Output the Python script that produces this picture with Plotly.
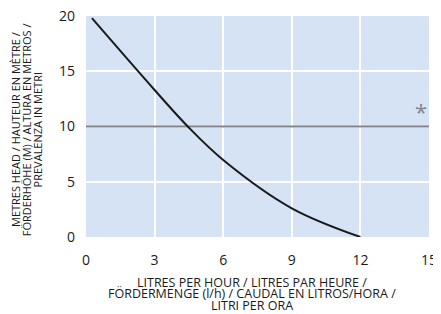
import plotly.graph_objects as go

flow = [0.26, 3.0, 4.45, 6.0, 9.0, 12.0]
head = [19.8, 13.3, 10.0, 6.97, 2.6, 0.0]
ref_level = [10, 10]
ref_x = [0, 15]
x_ticks = [0, 3, 6, 9, 12, 15]
y_ticks = [0, 5, 10, 15, 20]
x_title = ["LITRES PER HOUR / LITRES PAR HEURE /",
           "FÖRDERMENGE (l/h) / CAUDAL EN LITROS/HORA /",
           "LITRI PER ORA"]
y_title = ["METRES HEAD / HAUTEUR EN MÈTRE /",
           "FÖRDERHÖHE (M) / ALTURA EN METROS /",
           "PREVALENZA IN METRI"]

# page has an 8px body margin; figure drawn from (8, 8)
OFF = 8
W, H = 441 - OFF, 314 - OFF
L, R, T, B = 86 - OFF, 12, 16 - OFF, 77
pw, ph = W - L - R, H - T - B

def px_x(page_x):
    return (page_x - OFF - L) / pw

def px_y(page_y):
    return (H - B - (page_y - OFF)) / ph

fig = go.Figure()
fig.add_trace(go.Scatter(x=ref_x, y=ref_level, mode="lines",
                         line=dict(color="#858585", width=2), hoverinfo="skip"))
fig.add_trace(go.Scatter(x=flow, y=head, mode="lines",
                         line=dict(color="#1a1a1a", width=2, shape="spline", smoothing=1.0),
                         hoverinfo="skip"))
fig.add_annotation(x=14.65, y=11.4, text="*", showarrow=False,
                   font=dict(size=22, color="#858585", family="Open Sans"))

fig.update_layout(
    width=W, height=H,
    margin=dict(l=L, r=R, t=T, b=B),
    plot_bgcolor="#d5e3f4", paper_bgcolor="white",
    showlegend=False,
    font=dict(family="Open Sans", color="#1a1a1a"),
)
fig.update_xaxes(range=[0, 15], tickvals=x_ticks, showgrid=True, gridcolor="white",
                 gridwidth=2, zeroline=False, showline=False, ticks="",
                 tickfont=dict(size=14), ticklabelstandoff=13, automargin=False,
                 ticklabeloverflow="allow")
fig.update_yaxes(range=[0, 20], tickvals=y_ticks, showgrid=True, gridcolor="white",
                 gridwidth=2, zeroline=False, showline=False, ticks="",
                 tickfont=dict(size=14), ticklabelstandoff=10, automargin=False,
                 ticklabeloverflow="allow")

for i, line in enumerate(x_title):
    fig.add_annotation(xref="paper", yref="paper", x=px_x(252), y=px_y(282 + 11.5 * i),
                       xanchor="center", yanchor="middle", text=line, showarrow=False,
                       font=dict(size=12.5), borderpad=0)
for i, line in enumerate(y_title):
    fig.add_annotation(xref="paper", yref="paper", x=px_x(16 + 11.2 * i), y=px_y(130),
                       xanchor="center", yanchor="middle", textangle=-90, text=line,
                       showarrow=False, font=dict(size=11), borderpad=0)

fig.write_html("out.html")
